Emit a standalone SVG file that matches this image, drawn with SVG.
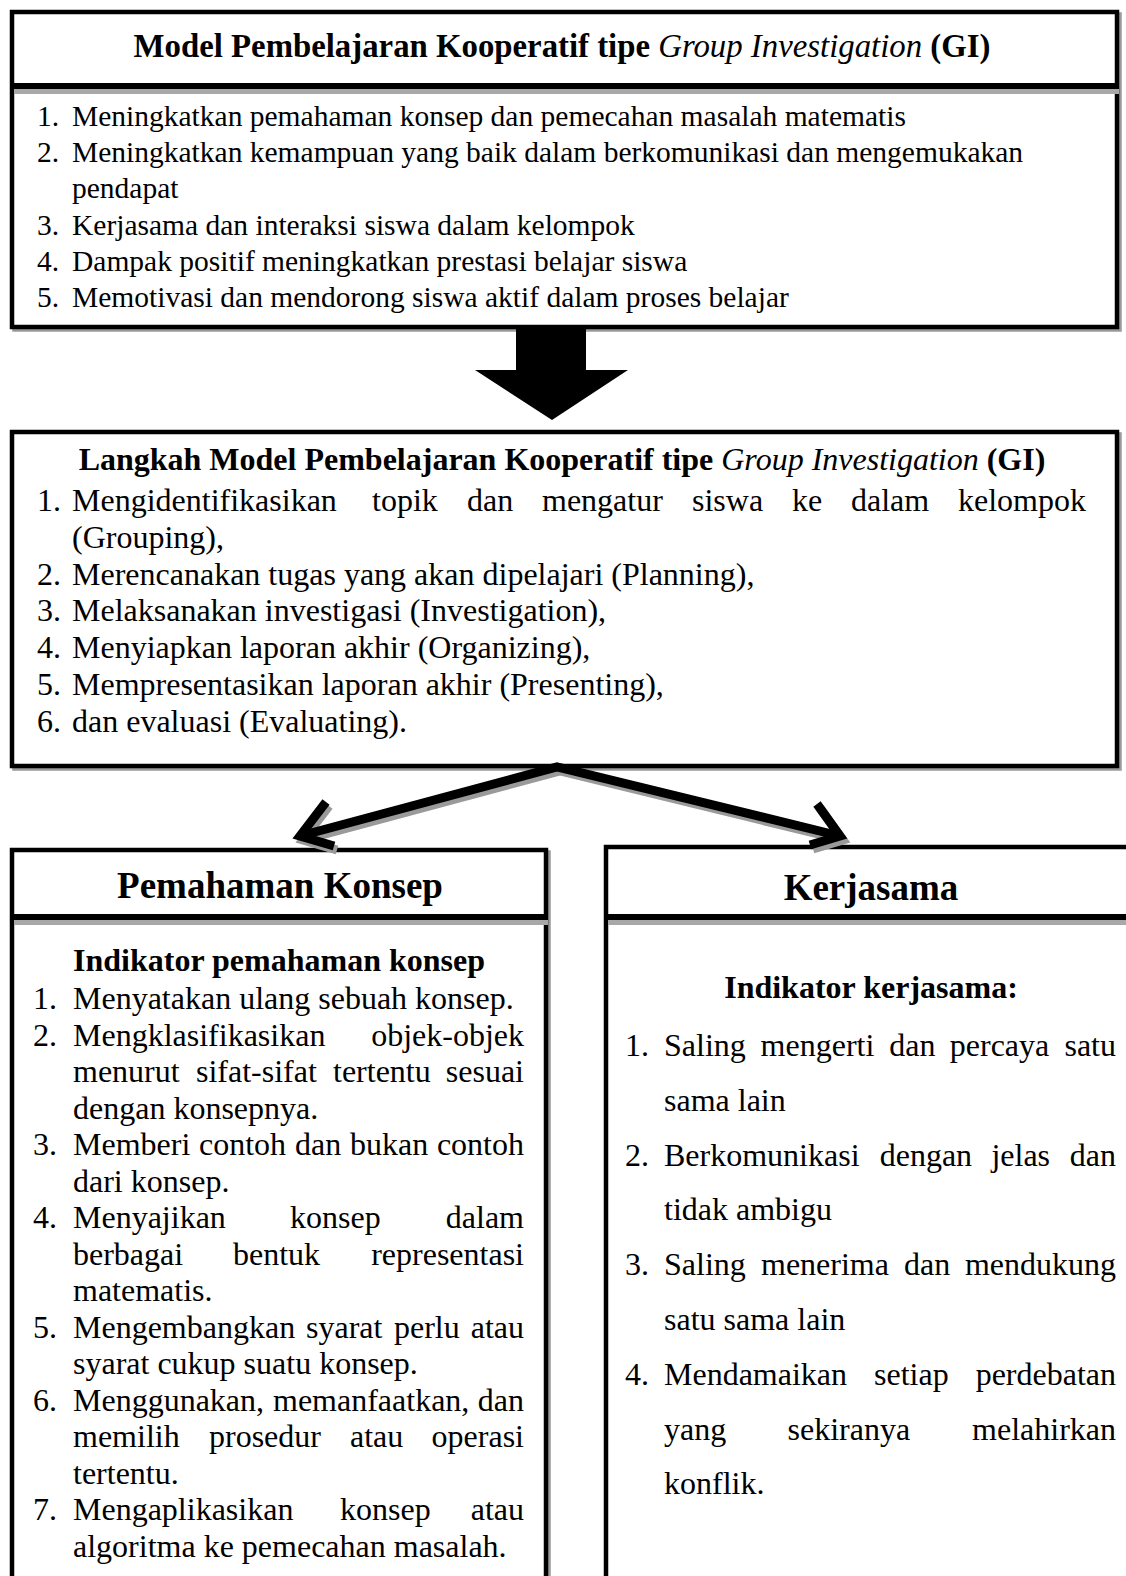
<svg xmlns="http://www.w3.org/2000/svg" width="1126" height="1576" viewBox="0 0 1126 1576">
<style>
text{font-family:"Liberation Serif","Times New Roman",serif;fill:#000}
.box{fill:#fff;stroke:#000;stroke-width:4.5}
.shadow{fill:none;stroke:#9a9a9a;stroke-width:4.5}
.sep{fill:#000}
.sepsh{fill:#a8a8a8}
.b{font-weight:bold}
.it{font-style:italic;font-weight:normal}
.t29{font-size:29.5px}
.t32{font-size:32px}
.t33{font-size:32.8px}
.h37{font-size:37px;font-weight:bold}
.e{text-anchor:end}
.m{text-anchor:middle}
.conn{fill:none;stroke:#000;stroke-width:9;stroke-linejoin:miter;stroke-linecap:butt}
.connsh{fill:none;stroke:#9a9a9a;stroke-width:9;stroke-linejoin:miter}
</style>
<rect width="1126" height="1576" fill="#fff"/>

<g id="node-model">
<rect class="shadow" x="14.5" y="14.5" width="1105" height="315"/>
<rect class="box" x="12" y="12" width="1105" height="315"/>
<rect class="sep" x="12" y="83" width="1105" height="6"/>
<rect class="sepsh" x="14" y="89" width="1105" height="5"/>
<text class="t33 b m" x="562" y="57">Model Pembelajaran Kooperatif tipe <tspan class="it">Group Investigation</tspan> (GI)</text>
<g class="t29">
<text x="37" y="126">1.</text><text x="72" y="126">Meningkatkan pemahaman konsep dan pemecahan masalah matematis</text>
<text x="37" y="162.2">2.</text><text x="72" y="162.2">Meningkatkan kemampuan yang baik dalam berkomunikasi dan mengemukakan</text>
<text x="72" y="198.4">pendapat</text>
<text x="37" y="234.6">3.</text><text x="72" y="234.6">Kerjasama dan interaksi siswa dalam kelompok</text>
<text x="37" y="270.8">4.</text><text x="72" y="270.8">Dampak positif meningkatkan prestasi belajar siswa</text>
<text x="37" y="307">5.</text><text x="72" y="307">Memotivasi dan mendorong siswa aktif dalam proses belajar</text>
</g>
</g>

<g id="node-langkah">
<rect class="shadow" x="14.5" y="434.5" width="1105" height="334"/>
<rect class="box" x="12" y="432" width="1105" height="334"/>
<text class="t32 b m" x="562" y="470">Langkah Model Pembelajaran Kooperatif tipe <tspan class="it">Group Investigation</tspan> (GI)</text>
<g class="t32">
<text x="37" y="511">1.</text>
<text x="72" y="511">Mengidentifikasikan</text><text x="372" y="511">topik</text><text x="467" y="511">dan</text><text x="542" y="511">mengatur</text><text x="692" y="511">siswa</text><text x="792" y="511">ke</text><text x="851" y="511">dalam</text><text class="e" x="1086" y="511">kelompok</text>
<text x="72" y="547.8">(Grouping),</text>
<text x="37" y="584.6">2.</text><text x="72" y="584.6">Merencanakan tugas yang akan dipelajari (Planning),</text>
<text x="37" y="621.4">3.</text><text x="72" y="621.4">Melaksanakan investigasi (Investigation),</text>
<text x="37" y="658.2">4.</text><text x="72" y="658.2">Menyiapkan laporan akhir (Organizing),</text>
<text x="37" y="695">5.</text><text x="72" y="695">Mempresentasikan laporan akhir (Presenting),</text>
<text x="37" y="731.8">6.</text><text x="72" y="731.8">dan evaluasi (Evaluating).</text>
</g>
</g>

<g id="node-pemahaman">
<rect class="shadow" x="14.5" y="852.5" width="534" height="800"/>
<rect class="box" x="12" y="850" width="534" height="800"/>
<rect class="sep" x="12" y="914" width="534" height="6"/>
<rect class="sepsh" x="14" y="920" width="534" height="5"/>
<text class="h37 m" x="280" y="898">Pemahaman Konsep</text>
<text class="t32 b" x="73" y="971">Indikator pemahaman konsep</text>
<g class="t32">
<text x="33" y="1009">1.</text><text x="73" y="1009">Menyatakan ulang sebuah konsep.</text>
<text x="33" y="1045.5">2.</text><text x="73" y="1045.5">Mengklasifikasikan</text><text class="e" x="524" y="1045.5">objek-objek</text>
<text x="73" y="1082.1">menurut</text><text x="196" y="1082.1">sifat-sifat</text><text x="333" y="1082.1">tertentu</text><text class="e" x="524" y="1082.1">sesuai</text>
<text x="73" y="1118.6">dengan konsepnya.</text>
<text x="33" y="1155.1">3.</text><text x="73" y="1155.1">Memberi</text><text x="199" y="1155.1">contoh</text><text x="295" y="1155.1">dan</text><text x="350" y="1155.1">bukan</text><text class="e" x="524" y="1155.1">contoh</text>
<text x="73" y="1191.7">dari konsep.</text>
<text x="33" y="1228.2">4.</text><text x="73" y="1228.2">Menyajikan</text><text x="290" y="1228.2">konsep</text><text class="e" x="524" y="1228.2">dalam</text>
<text x="73" y="1264.7">berbagai</text><text x="233" y="1264.7">bentuk</text><text class="e" x="524" y="1264.7">representasi</text>
<text x="73" y="1301.2">matematis.</text>
<text x="33" y="1337.8">5.</text><text x="73" y="1337.8">Mengembangkan</text><text x="306" y="1337.8">syarat</text><text x="394" y="1337.8">perlu</text><text class="e" x="524" y="1337.8">atau</text>
<text x="73" y="1374.3">syarat cukup suatu konsep.</text>
<text x="33" y="1410.8">6.</text><text x="73" y="1410.8">Menggunakan,</text><text x="273" y="1410.8">memanfaatkan,</text><text class="e" x="524" y="1410.8">dan</text>
<text x="73" y="1447.4">memilih</text><text x="209" y="1447.4">prosedur</text><text x="350" y="1447.4">atau</text><text class="e" x="524" y="1447.4">operasi</text>
<text x="73" y="1483.9">tertentu.</text>
<text x="33" y="1520.4">7.</text><text x="73" y="1520.4">Mengaplikasikan</text><text x="340" y="1520.4">konsep</text><text class="e" x="524" y="1520.4">atau</text>
<text x="73" y="1557">algoritma ke pemecahan masalah.</text>
</g>
</g>

<g id="node-kerjasama">
<rect class="shadow" x="608.5" y="849.5" width="600" height="800"/>
<rect class="box" x="606" y="847" width="600" height="800"/>
<rect class="sep" x="606" y="914" width="600" height="6"/>
<rect class="sepsh" x="608" y="920" width="600" height="5"/>
<text class="h37 m" x="871" y="900">Kerjasama</text>
<text class="t32 b m" x="871" y="998">Indikator kerjasama:</text>
<g class="t32">
<text x="625" y="1056">1.</text><text x="664" y="1056">Saling</text><text x="760.6" y="1056">mengerti</text><text x="889.2" y="1056">dan</text><text x="949.8" y="1056">percaya</text><text class="e" x="1116" y="1056">satu</text>
<text x="664" y="1110.8">sama lain</text>
<text x="625" y="1165.6">2.</text><text x="664" y="1165.6">Berkomunikasi</text><text x="879.7" y="1165.6">dengan</text><text x="991.4" y="1165.6">jelas</text><text class="e" x="1116" y="1165.6">dan</text>
<text x="664" y="1220.4">tidak ambigu</text>
<text x="625" y="1275.2">3.</text><text x="664" y="1275.2">Saling</text><text x="761" y="1275.2">menerima</text><text x="904" y="1275.2">dan</text><text class="e" x="1116" y="1275.2">mendukung</text>
<text x="664" y="1330">satu sama lain</text>
<text x="625" y="1384.8">4.</text><text x="664" y="1384.8">Mendamaikan</text><text x="874" y="1384.8">setiap</text><text class="e" x="1116" y="1384.8">perdebatan</text>
<text x="664" y="1439.6">yang</text><text x="787.5" y="1439.6">sekiranya</text><text class="e" x="1116" y="1439.6">melahirkan</text>
<text x="664" y="1494.4">konflik.</text>
</g>
</g>

<g id="connectors">
<polygon points="516,327 586,327 586,370 628,370 552,420 475,370 516,370" fill="#000"/>
<g transform="translate(3,4)">
<path class="connsh" d="M300,836 L557,767 L840,836"/>
<path class="connsh" d="M326,802 L300,836 L334,846"/>
<path class="connsh" d="M817,804 L840,836 L810,845"/>
</g>
<path class="conn" d="M300,836 L557,767 L840,836"/>
<path class="conn" d="M326,802 L300,836 L334,846"/>
<path class="conn" d="M817,804 L840,836 L810,845"/>
</g>
</svg>
